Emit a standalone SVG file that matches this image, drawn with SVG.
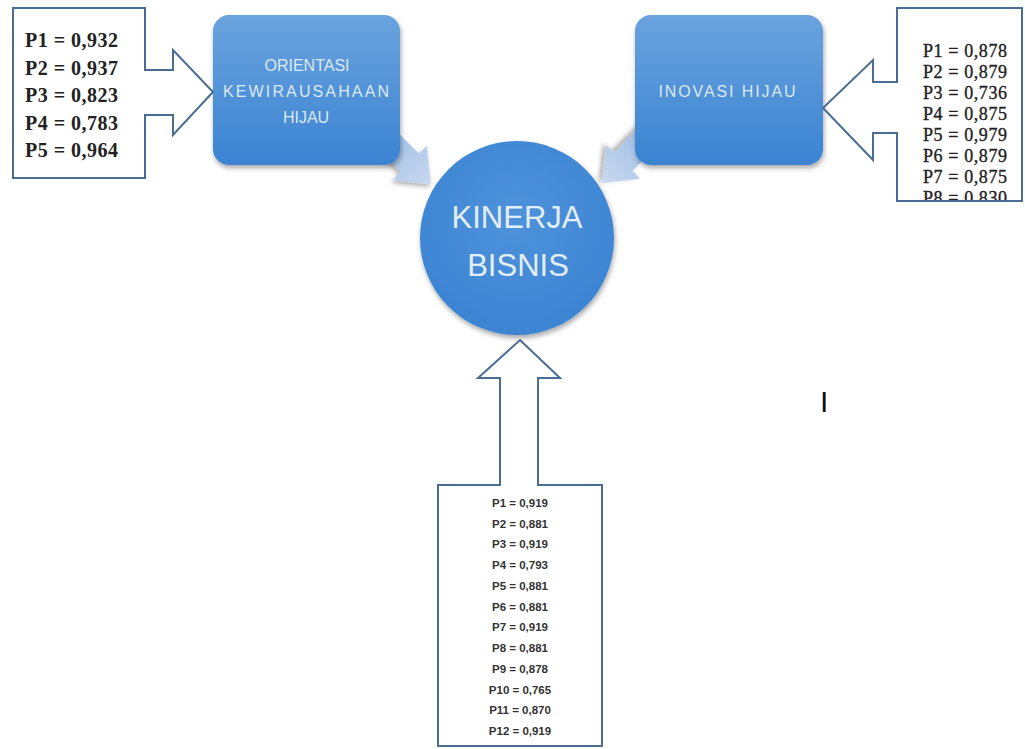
<svg xmlns="http://www.w3.org/2000/svg" width="1025" height="749" viewBox="0 0 1025 749">
<defs>
<linearGradient id="boxGrad" x1="0" y1="0" x2="0" y2="1">
<stop offset="0" stop-color="#6aa3de"/>
<stop offset="1" stop-color="#3a83d2"/>
</linearGradient>
<radialGradient id="circGrad" cx="0.5" cy="0.4" r="0.6">
<stop offset="0" stop-color="#4f92da"/>
<stop offset="1" stop-color="#3c84d3"/>
</radialGradient>
<linearGradient id="arrGrad" x1="0" y1="0" x2="1" y2="0">
<stop offset="0" stop-color="#9dbde6"/>
<stop offset="1" stop-color="#c9d8ef"/>
</linearGradient>
<filter id="shadow" x="-20%" y="-20%" width="140%" height="140%">
<feDropShadow dx="1" dy="3" stdDeviation="2.5" flood-color="#000" flood-opacity="0.35"/>
</filter>
<clipPath id="rclip"><rect x="897" y="8" width="125" height="192"/></clipPath>
</defs>
<style>
.callout{fill:#fff;stroke:#4b6d93;stroke-width:2;stroke-linejoin:miter}
.serifL{font-family:"Liberation Serif","DejaVu Serif",serif;font-weight:bold;font-size:20px;fill:#222}
.serifR{font-family:"Liberation Serif","DejaVu Serif",serif;font-size:18px;fill:#222;stroke:#222;stroke-width:0.35}
.small{font-family:"Liberation Sans","DejaVu Sans",sans-serif;font-weight:bold;font-size:11.5px;fill:#333;text-anchor:middle}
.boxtxt{font-family:"Liberation Sans","DejaVu Sans",sans-serif;font-size:16px;fill:#dce9f7;text-anchor:middle}
.circtxt{font-family:"Liberation Sans","DejaVu Sans",sans-serif;font-size:31px;fill:#e2eefa;text-anchor:middle}
.rbox{fill:url(#boxGrad);filter:url(#shadow)}
.sarrow{fill:url(#arrGrad);filter:url(#shadow)}
</style>
<rect width="1025" height="749" fill="#fff"/>

<g id="connectors">
<path class="sarrow" transform="translate(431,184) rotate(45)" d="M0,0 L-30,-24 L-30,-13 L-70,-13 L-70,13 L-30,13 L-30,24 Z"/>
<path class="sarrow" transform="translate(602,183) rotate(135)" d="M0,0 L-30,-24 L-30,-13 L-70,-13 L-70,13 L-30,13 L-30,24 Z"/>
</g>

<g id="node-orientasi">
<rect class="rbox" x="213" y="15" width="187" height="150" rx="16" ry="16"/>
<text class="boxtxt" x="307" y="71">ORIENTASI</text>
<text class="boxtxt" x="306" y="97" textLength="166" lengthAdjust="spacing">KEWIRAUSAHAAN</text>
<text class="boxtxt" x="306" y="123">HIJAU</text>
</g>

<g id="node-inovasi">
<rect class="rbox" x="635" y="15" width="188" height="150" rx="16" ry="16"/>
<text class="boxtxt" x="727" y="97" textLength="137" lengthAdjust="spacing">INOVASI HIJAU</text>
</g>

<g id="node-kinerja">
<circle cx="517" cy="238" r="97" fill="url(#circGrad)" filter="url(#shadow)"/>
<text class="circtxt" x="517" y="228">KINERJA</text>
<text class="circtxt" x="518" y="276">BISNIS</text>
</g>

<g id="callout-left">
<path class="callout" d="M13,8 L145,8 L145,70 L173,70 L173,50 L213,92 L173,135 L173,115 L145,115 L145,178 L13,178 Z"/>
<text class="serifL" x="25" y="47" textLength="93" lengthAdjust="spacing">P1 = 0,932</text>
<text class="serifL" x="25" y="75" textLength="93" lengthAdjust="spacing">P2 = 0,937</text>
<text class="serifL" x="25" y="102" textLength="93" lengthAdjust="spacing">P3 = 0,823</text>
<text class="serifL" x="25" y="130" textLength="93" lengthAdjust="spacing">P4 = 0,783</text>
<text class="serifL" x="25" y="157" textLength="93" lengthAdjust="spacing">P5 = 0,964</text>
</g>

<g id="callout-right">
<g clip-path="url(#rclip)">
<text class="serifR" x="923" y="57" textLength="84" lengthAdjust="spacing">P1 = 0,878</text>
<text class="serifR" x="923" y="78" textLength="84" lengthAdjust="spacing">P2 = 0,879</text>
<text class="serifR" x="923" y="99" textLength="84" lengthAdjust="spacing">P3 = 0,736</text>
<text class="serifR" x="923" y="120" textLength="84" lengthAdjust="spacing">P4 = 0,875</text>
<text class="serifR" x="923" y="141" textLength="84" lengthAdjust="spacing">P5 = 0,979</text>
<text class="serifR" x="923" y="162" textLength="84" lengthAdjust="spacing">P6 = 0,879</text>
<text class="serifR" x="923" y="183" textLength="84" lengthAdjust="spacing">P7 = 0,875</text>
<text class="serifR" x="923" y="204" textLength="84" lengthAdjust="spacing">P8 = 0.830</text>
</g>
<path class="callout" style="fill:none" d="M897,8 L1022,8 L1022,201 L897,201 L897,133 L873,133 L873,160 L823,108 L873,60 L873,82 L897,82 Z"/>
</g>

<g id="callout-bottom">
<path class="callout" d="M520,340 L560,378 L538,378 L538,485 L602,485 L602,746 L438,746 L438,485 L500,485 L500,378 L478,378 Z"/>
<text class="small" x="520" y="507">P1 = 0,919</text>
<text class="small" x="520" y="528">P2 = 0,881</text>
<text class="small" x="520" y="548">P3 = 0,919</text>
<text class="small" x="520" y="569">P4 = 0,793</text>
<text class="small" x="520" y="590">P5 = 0,881</text>
<text class="small" x="520" y="611">P6 = 0,881</text>
<text class="small" x="520" y="631">P7 = 0,919</text>
<text class="small" x="520" y="652">P8 = 0,881</text>
<text class="small" x="520" y="673">P9 = 0,878</text>
<text class="small" x="520" y="694">P10 = 0,765</text>
<text class="small" x="520" y="714">P11 = 0,870</text>
<text class="small" x="520" y="735">P12 = 0,919</text>
</g>

<text x="820" y="412" font-family="Liberation Sans, DejaVu Sans, sans-serif" font-size="30" fill="#111">I</text>
</svg>
